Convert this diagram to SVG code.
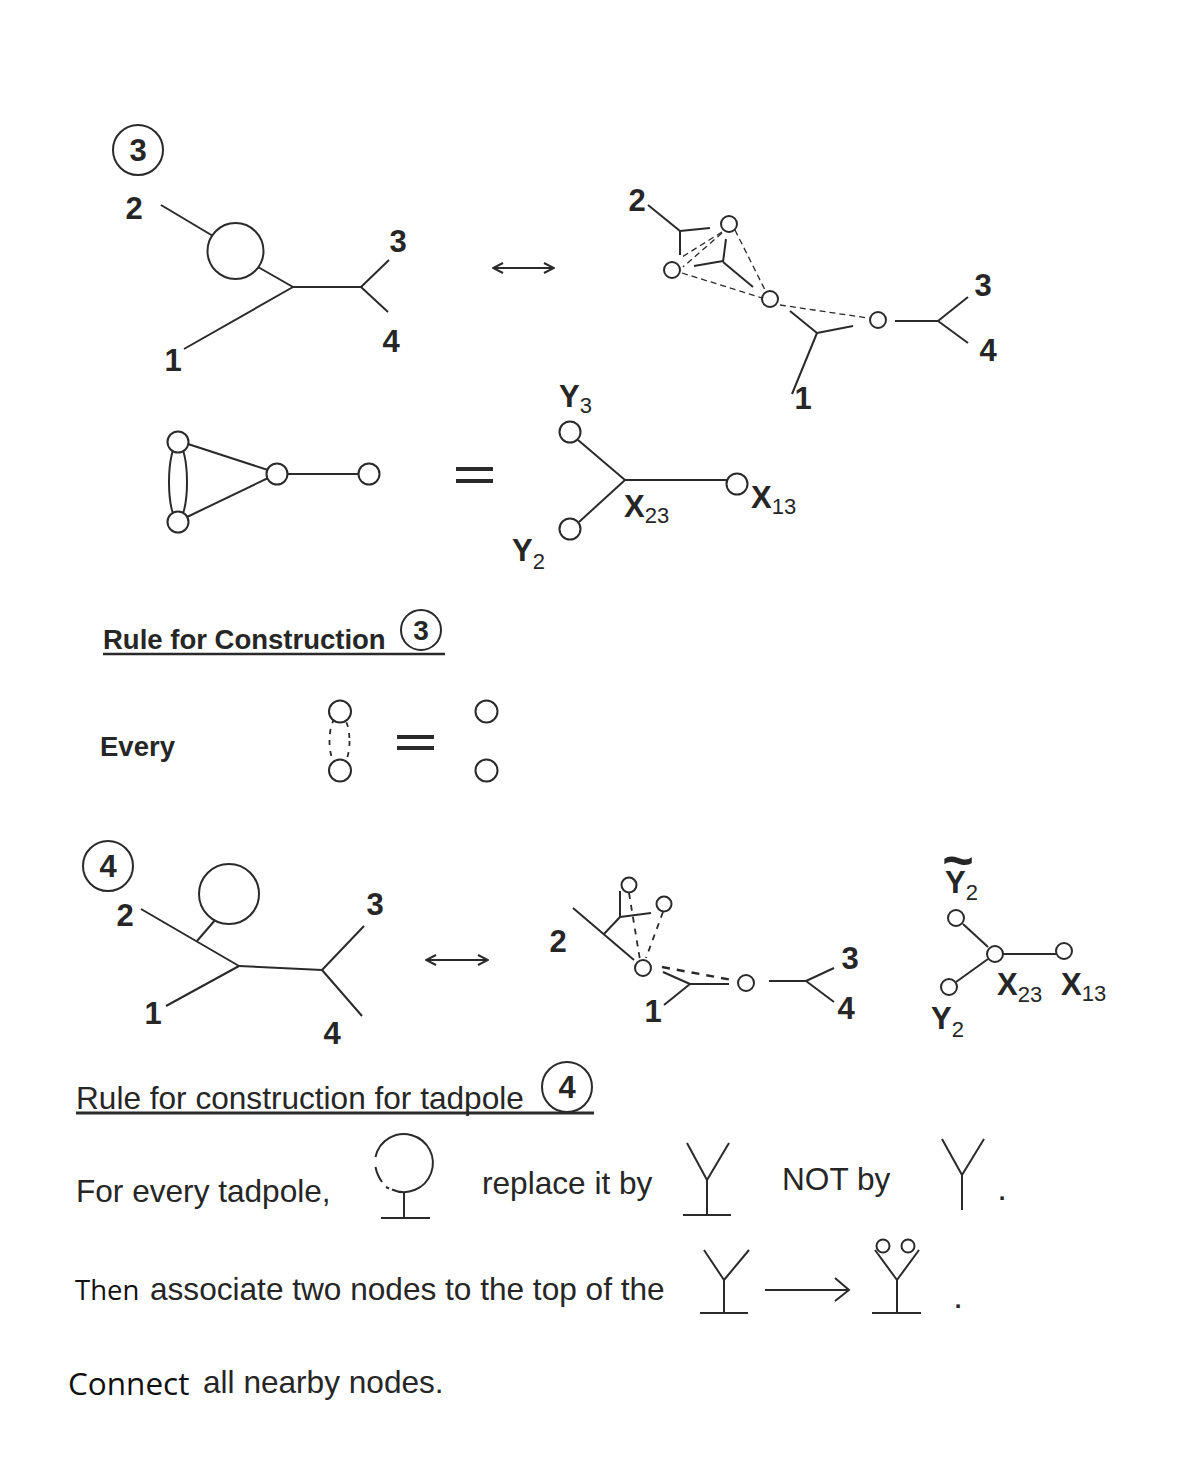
<svg xmlns="http://www.w3.org/2000/svg" width="1196" height="1476" viewBox="0 0 1196 1476">
<defs>
<marker id="open" viewBox="0 0 12 12" refX="11" refY="6" markerWidth="12" markerHeight="12" markerUnits="userSpaceOnUse" orient="auto-start-reverse"><path d="M1 1 L11 6 L1 11" fill="none" stroke="#2a2a2a" stroke-width="1.4"/></marker>
</defs>
<style>
text{font-family:"Liberation Sans",Arial,sans-serif;fill:#262626}
.d{font-weight:700;font-size:31px;text-anchor:middle}
.v{font-weight:700;font-size:31px}
.s{font-weight:400;font-size:22px}
.t{font-size:31.6px}
.c{font-family:"Open Sans","Noto Sans",sans-serif;fill:#111}
.dot{font-weight:700;font-size:24px;text-anchor:middle}
line,path,ellipse.e{fill:none;stroke:#2a2a2a;stroke-width:2;stroke-linecap:butt}
.th{stroke-width:1.3;stroke-dasharray:6 4}
.dd{stroke-width:2.4;stroke-dasharray:8 7}
.n{fill:#fff;stroke:#2a2a2a;stroke-width:2}
.q{stroke-width:4}
</style>
<rect width="1196" height="1476" fill="#fff"/>

<g id="connectors">
<!-- top left -->
<line x1="161" y1="205" x2="213" y2="236"/><line x1="258" y1="267" x2="293" y2="287"/><line x1="184" y1="349" x2="293" y2="287"/><line x1="293" y1="287" x2="361" y2="287"/><line x1="361" y1="287" x2="389" y2="260"/><line x1="361" y1="287" x2="388" y2="312"/>
<line x1="493" y1="268" x2="554" y2="268" marker-start="url(#open)" marker-end="url(#open)"/>
<!-- top right -->
<line x1="648" y1="205" x2="680" y2="231"/><line x1="680" y1="231" x2="710" y2="228"/><line x1="680" y1="231" x2="680" y2="255"/>
<line x1="694" y1="266" x2="723" y2="261"/><line x1="723" y1="262" x2="726" y2="239"/><line x1="723" y1="262" x2="753" y2="287"/>
<line x1="790" y1="311" x2="817" y2="333"/><line x1="817" y1="333" x2="853" y2="326"/><line x1="817" y1="333" x2="792" y2="394"/>
<line x1="895" y1="321" x2="938" y2="321"/><line x1="938" y1="321" x2="968" y2="297"/><line x1="938" y1="321" x2="968" y2="343"/>
<line class="th" x1="722" y1="232" x2="682" y2="257"/><line class="th" x1="722" y1="233" x2="683" y2="267"/><line class="th" x1="735" y1="230" x2="766" y2="292"/><line class="th" x1="682" y1="273" x2="762" y2="298"/><line class="th" x1="780" y1="305" x2="868" y2="318"/>
<!-- middle -->
<ellipse class="e" cx="178" cy="482" rx="9" ry="38"/>
<line x1="188" y1="444" x2="268" y2="470"/><line x1="187" y1="517" x2="268" y2="478"/><line x1="287" y1="474" x2="360" y2="474"/>
<line x1="578" y1="440" x2="625" y2="480"/><line x1="625" y1="480" x2="728" y2="480"/><line x1="625" y1="480" x2="579" y2="522"/>
<line class="q" x1="456" y1="469" x2="493" y2="469"/><line class="q" x1="456" y1="481" x2="493" y2="481"/>
<!-- rule 3 -->
<line x1="103" y1="654" x2="445" y2="654" style="stroke-width:2.4"/>
<ellipse class="e" cx="339.500" cy="741" rx="10" ry="26" style="stroke-width:1.8;stroke-dasharray:5 6"/>
<line class="q" x1="397" y1="737" x2="434" y2="737"/><line class="q" x1="397" y1="748" x2="434" y2="748"/>
<!-- tadpole left -->
<line x1="216" y1="919" x2="197" y2="941"/><line x1="141" y1="909" x2="239" y2="966"/><line x1="166" y1="1006" x2="239" y2="966"/><line x1="239" y1="966" x2="322" y2="970"/><line x1="322" y1="970" x2="364" y2="926"/><line x1="322" y1="970" x2="362" y2="1016"/>
<line x1="426" y1="960" x2="488" y2="960" marker-start="url(#open)" marker-end="url(#open)"/>
<!-- tadpole right -->
<line x1="573" y1="908" x2="634" y2="960"/><line x1="604" y1="934" x2="620" y2="917"/><line x1="620" y1="917" x2="620" y2="891"/><line x1="620" y1="917" x2="651" y2="913"/>
<line class="dd" x1="629" y1="893" x2="640" y2="960" style="stroke-width:1.8;stroke-dasharray:6 6"/><line class="dd" x1="663" y1="912" x2="646" y2="958" style="stroke-width:1.8;stroke-dasharray:6 6"/><line class="dd" x1="662" y1="967" x2="732" y2="980"/>
<line x1="663" y1="972" x2="690" y2="984"/><line x1="690" y1="984" x2="729" y2="984"/><line x1="690" y1="984" x2="664" y2="1005"/>
<line x1="769" y1="981" x2="806" y2="981"/><line x1="806" y1="981" x2="834" y2="968"/><line x1="806" y1="981" x2="834" y2="1002"/>
<line x1="963" y1="924" x2="988" y2="947"/><line x1="1003" y1="954" x2="1056" y2="954"/><line x1="956" y1="982" x2="988" y2="959"/>
<!-- rule 4 -->
<line x1="76" y1="1113" x2="594" y2="1113" style="stroke-width:3"/>
<path d="M375.500 1157 A29 29 0 1 1 392 1189.500 M386 1187 L389 1188.500 M375.500 1167 Q377 1175 382 1182"/>
<line x1="404" y1="1192" x2="404" y2="1218"/><line x1="381" y1="1218" x2="430" y2="1218"/>
<line x1="687" y1="1143" x2="707" y2="1180"/><line x1="729" y1="1143" x2="707" y2="1180"/><line x1="707" y1="1180" x2="707" y2="1215"/><line x1="683" y1="1215" x2="731" y2="1215"/>
<line x1="942" y1="1139" x2="962" y2="1175"/><line x1="984" y1="1139" x2="962" y2="1175"/><line x1="962" y1="1175" x2="962" y2="1210"/>
<line x1="704" y1="1250" x2="724" y2="1280"/><line x1="749" y1="1250" x2="724" y2="1280"/><line x1="724" y1="1280" x2="724" y2="1313"/><line x1="700" y1="1313" x2="748" y2="1313"/>
<path d="M765 1290 H849 M835 1278 L849 1290 L835 1301"/>
<line x1="875" y1="1250" x2="897" y2="1280"/><line x1="919" y1="1250" x2="897" y2="1280"/><line x1="897" y1="1280" x2="897" y2="1313"/><line x1="872" y1="1313" x2="921" y2="1313"/>
</g>

<g id="node-circle3-top"><circle class="n" cx="138" cy="150" r="25"/><text class="d" x="138" y="161">3</text></g>
<g id="node-loop-top"><circle class="n" cx="235.500" cy="251" r="28"/></g>
<g id="node-r1"><circle class="n" cx="729" cy="224" r="8"/></g>
<g id="node-r2"><circle class="n" cx="672" cy="270" r="8"/></g>
<g id="node-r3"><circle class="n" cx="770" cy="299" r="8"/></g>
<g id="node-r4"><circle class="n" cx="878" cy="320" r="8"/></g>
<g id="node-m1"><circle class="n" cx="178" cy="442" r="10.500"/></g>
<g id="node-m2"><circle class="n" cx="178" cy="522" r="10.500"/></g>
<g id="node-m3"><circle class="n" cx="277" cy="474" r="10.500"/></g>
<g id="node-m4"><circle class="n" cx="369" cy="474" r="10.500"/></g>
<g id="node-y3"><circle class="n" cx="570" cy="432" r="10.500"/></g>
<g id="node-y2"><circle class="n" cx="570" cy="529" r="10.500"/></g>
<g id="node-x13"><circle class="n" cx="737" cy="484" r="10.500"/></g>
<g id="node-circle3-rule"><circle class="n" cx="421" cy="630" r="20"/><text class="d" x="421" y="640" style="font-size:28px">3</text></g>
<g id="node-e1"><circle class="n" cx="340" cy="711.500" r="11"/></g>
<g id="node-e2"><circle class="n" cx="340" cy="770.500" r="11"/></g>
<g id="node-e3"><circle class="n" cx="486.500" cy="711.500" r="11"/></g>
<g id="node-e4"><circle class="n" cx="486.500" cy="770.500" r="11"/></g>
<g id="node-circle4-top"><circle class="n" cx="108" cy="866" r="25"/><text class="d" x="108" y="877">4</text></g>
<g id="node-loop-tadpole"><circle class="n" cx="229" cy="894" r="30"/></g>
<g id="node-t1"><circle class="n" cx="629" cy="885" r="7.500"/></g>
<g id="node-t2"><circle class="n" cx="664" cy="904" r="7.500"/></g>
<g id="node-t3"><circle class="n" cx="643" cy="968" r="8"/></g>
<g id="node-t4"><circle class="n" cx="746" cy="983" r="8"/></g>
<g id="node-u1"><circle class="n" cx="956" cy="918" r="8"/></g>
<g id="node-u2"><circle class="n" cx="995" cy="954" r="8"/></g>
<g id="node-u3"><circle class="n" cx="1064" cy="951" r="8"/></g>
<g id="node-u4"><circle class="n" cx="949" cy="987" r="8"/></g>
<g id="node-circle4-rule"><circle class="n" cx="567" cy="1087" r="25"/><text class="d" x="567" y="1098">4</text></g>
<g id="node-h1"><circle class="n" cx="883" cy="1246" r="6.500"/></g>
<g id="node-h2"><circle class="n" cx="908" cy="1246" r="6.500"/></g>

<g id="labels">
<text class="d" x="134" y="219">2</text><text class="d" x="398" y="252">3</text><text class="d" x="391" y="352">4</text><text class="d" x="173" y="371">1</text>
<text class="d" x="637" y="211">2</text><text class="d" x="983" y="296">3</text><text class="d" x="988" y="361">4</text><text class="d" x="803" y="409">1</text>
<text class="v" x="559" y="407">Y<tspan class="s" dy="6">3</tspan></text>
<text class="v" x="512" y="561">Y<tspan class="s" dy="8">2</tspan></text>
<text class="v" x="624" y="517">X<tspan class="s" dy="6">23</tspan></text>
<text class="v" x="751" y="508">X<tspan class="s" dy="6">13</tspan></text>
<text x="103" y="649" style="font-weight:700;font-size:27.500px">Rule for Construction</text>
<text x="100" y="756" style="font-weight:700;font-size:27.500px">Every</text>
<text class="d" x="125" y="926">2</text><text class="d" x="375" y="915">3</text><text class="d" x="332" y="1044">4</text><text class="d" x="153" y="1024">1</text>
<text class="d" x="558" y="952">2</text><text class="d" x="653" y="1022">1</text><text class="d" x="850" y="969">3</text><text class="d" x="846" y="1019">4</text>
<text x="958" y="879" style="font-weight:700;font-size:54px;text-anchor:middle">~</text>
<text class="v" x="945" y="893">Y<tspan class="s" dy="7">2</tspan></text>
<text class="v" x="931" y="1029">Y<tspan class="s" dy="8">2</tspan></text>
<text class="v" x="997" y="995">X<tspan class="s" dy="7">23</tspan></text>
<text class="v" x="1061" y="995">X<tspan class="s" dy="6">13</tspan></text>
<text class="t" x="76" y="1109">Rule for construction for tadpole</text>
<text class="t" x="76" y="1202">For every tadpole,</text>
<text class="t" x="482" y="1194">replace it by</text>
<text class="t" x="782" y="1190">NOT by</text>
<text class="dot" x="1002" y="1200">.</text>
<text class="c" x="75" y="1300" style="font-size:27.500px">Then</text>
<text class="t" x="150" y="1300">associate two nodes to the top of the</text>
<text class="dot" x="958" y="1308">.</text>
<text class="c" x="68" y="1395" style="font-size:31.500px">Connect</text>
<text class="t" x="203" y="1393">all nearby nodes.</text>
</g>
</svg>
